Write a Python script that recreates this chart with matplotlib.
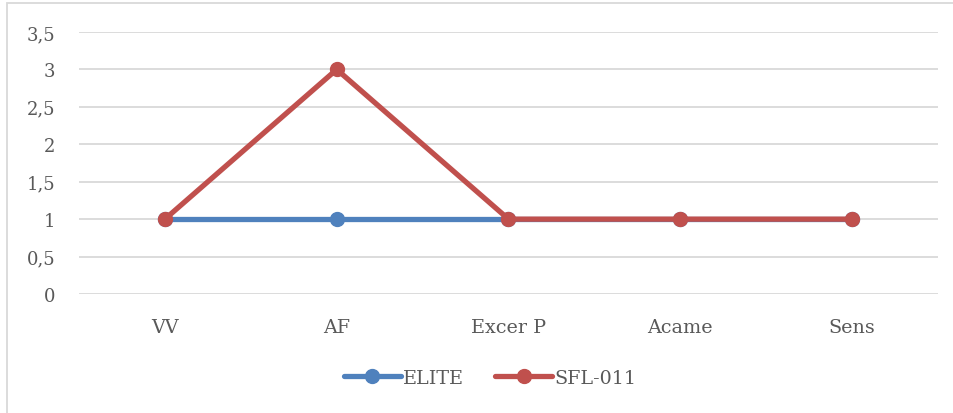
import matplotlib
matplotlib.use('Agg')
import matplotlib.pyplot as plt
from matplotlib.patches import Rectangle

# Data
categories = ['VV', 'AF', 'Excer P', 'Acame', 'Sens']
elite = [1, 1, 1, 1, 1]
sfl011 = [1, 3, 1, 1, 1]
yticks = [0, 0.5, 1, 1.5, 2, 2.5, 3, 3.5]

plt.rcParams['font.family'] = ['DejaVu Serif']

fig = plt.figure(figsize=(9.54, 4.14), dpi=100)
ax = fig.add_axes([79 / 954, 1 - 295 / 414, (938 - 79) / 954, (295 - 33) / 414])

# light frame of the chart area
fig.patches.append(Rectangle((7 / 954, -0.1), 1.2, (414 - 4) / 414 + 0.1,
                             transform=fig.transFigure, fill=False,
                             edgecolor='#D9D9D9', linewidth=1.3))

x = range(len(categories))
ax.plot(x, elite, color='#4F81BD', linewidth=3.8, marker='o', markersize=10,
        label='ELITE', solid_capstyle='round', zorder=3)
ax.plot(x, sfl011, color='#C0504D', linewidth=3.8, marker='o', markersize=10,
        label='SFL-011', solid_capstyle='round', zorder=4)

ax.set_xlim(-0.5, len(categories) - 0.5)
ax.set_ylim(0, 3.5)
ax.set_yticks(yticks)
ax.set_yticklabels([f'{v:g}'.replace('.', ',') for v in yticks])
ax.set_xticks(list(x))
ax.set_xticklabels(categories)
ax.tick_params(length=0, colors='#595959')
ax.tick_params(axis='y', pad=17, labelsize=13)
ax.tick_params(axis='x', pad=17, labelsize=13.8)
ax.grid(axis='y', color='#D9D9D9', linewidth=1.3)
ax.set_axisbelow(True)
for s in ax.spines.values():
    s.set_visible(False)

leg = fig.legend(loc='center', bbox_to_anchor=(490 / 954, 1 - 379 / 414), ncol=2,
                 frameon=False, fontsize=13.8, handlelength=3.0, handletextpad=0.1,
                 columnspacing=1.6)
for t in leg.get_texts():
    t.set_color('#595959')

fig.savefig('out.png', dpi=100)
